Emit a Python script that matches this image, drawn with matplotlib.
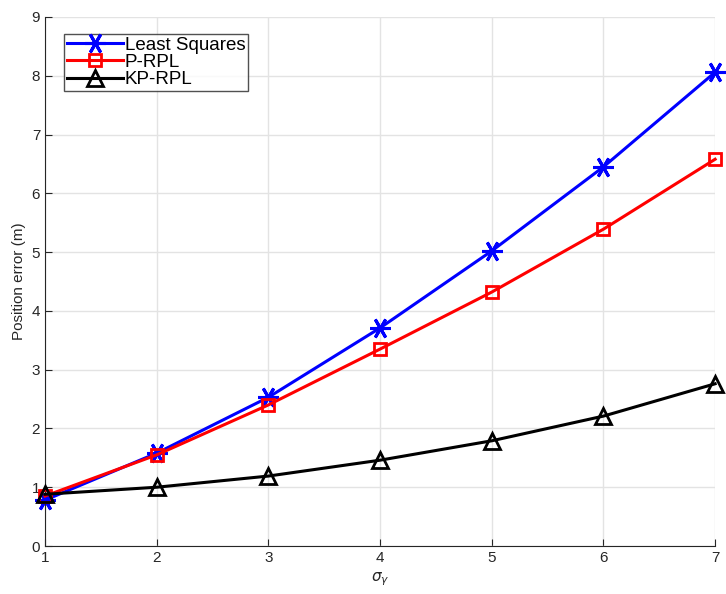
import matplotlib
matplotlib.use("Agg")
import matplotlib.pyplot as plt

sigma = [1, 2, 3, 4, 5, 6, 7]
ls_err = [0.78, 1.58, 2.53, 3.71, 5.02, 6.45, 8.06]
prpl_err = [0.85, 1.55, 2.40, 3.35, 4.32, 5.39, 6.58]
kprpl_err = [0.88, 1.00, 1.19, 1.46, 1.79, 2.21, 2.76]

plt.rcParams['font.family'] = ['Liberation Sans', 'DejaVu Sans']

fig = plt.figure(figsize=(7.26, 5.94), dpi=100)
ax = fig.add_axes([0.062, 0.0808, 0.923, 0.8906])

# asterisk like matlab '*' (vertical arm + diagonals)
ax.plot(sigma, ls_err, color='blue', lw=2.2, marker=(6, 2, 90), ms=15, mew=2.2,
        label='Least Squares', clip_on=False, zorder=3)
ax.plot(sigma, prpl_err, color='red', lw=2.2, marker='s', ms=9, mew=2,
        mfc='none', label='P-RPL', clip_on=False, zorder=3)
ax.plot(sigma, kprpl_err, color='black', lw=2.2, marker='^', ms=12, mew=2,
        mfc='none', label='KP-RPL', clip_on=False, zorder=3)

ax.set_xlim(1, 7)
ax.set_ylim(0, 9)
ax.set_xticks(sigma)
ax.set_yticks(range(0, 10))
ax.grid(True, color='#e3e3e3', lw=1)
ax.set_axisbelow(True)
ax.spines['top'].set_visible(False)
ax.spines['right'].set_visible(False)
ax.spines['left'].set_color('#262626')
ax.spines['bottom'].set_color('#262626')
ax.tick_params(direction='in', length=5, labelsize=11, colors='#262626')

ax.set_xlabel(r'$\sigma_\gamma$', fontsize=11, color='#262626')
ax.set_ylabel('Position error (m)', fontsize=11, color='#262626')

leg = ax.legend(loc='upper left', bbox_to_anchor=(0.028, 0.968), fontsize=13.5,
                frameon=True, fancybox=False, edgecolor='#262626',
                borderpad=0.15, labelspacing=0.0, handlelength=3.0,
                handletextpad=0.1, borderaxespad=0, numpoints=1)
leg.get_frame().set_linewidth(1)

fig.savefig('out.png', dpi=100)
